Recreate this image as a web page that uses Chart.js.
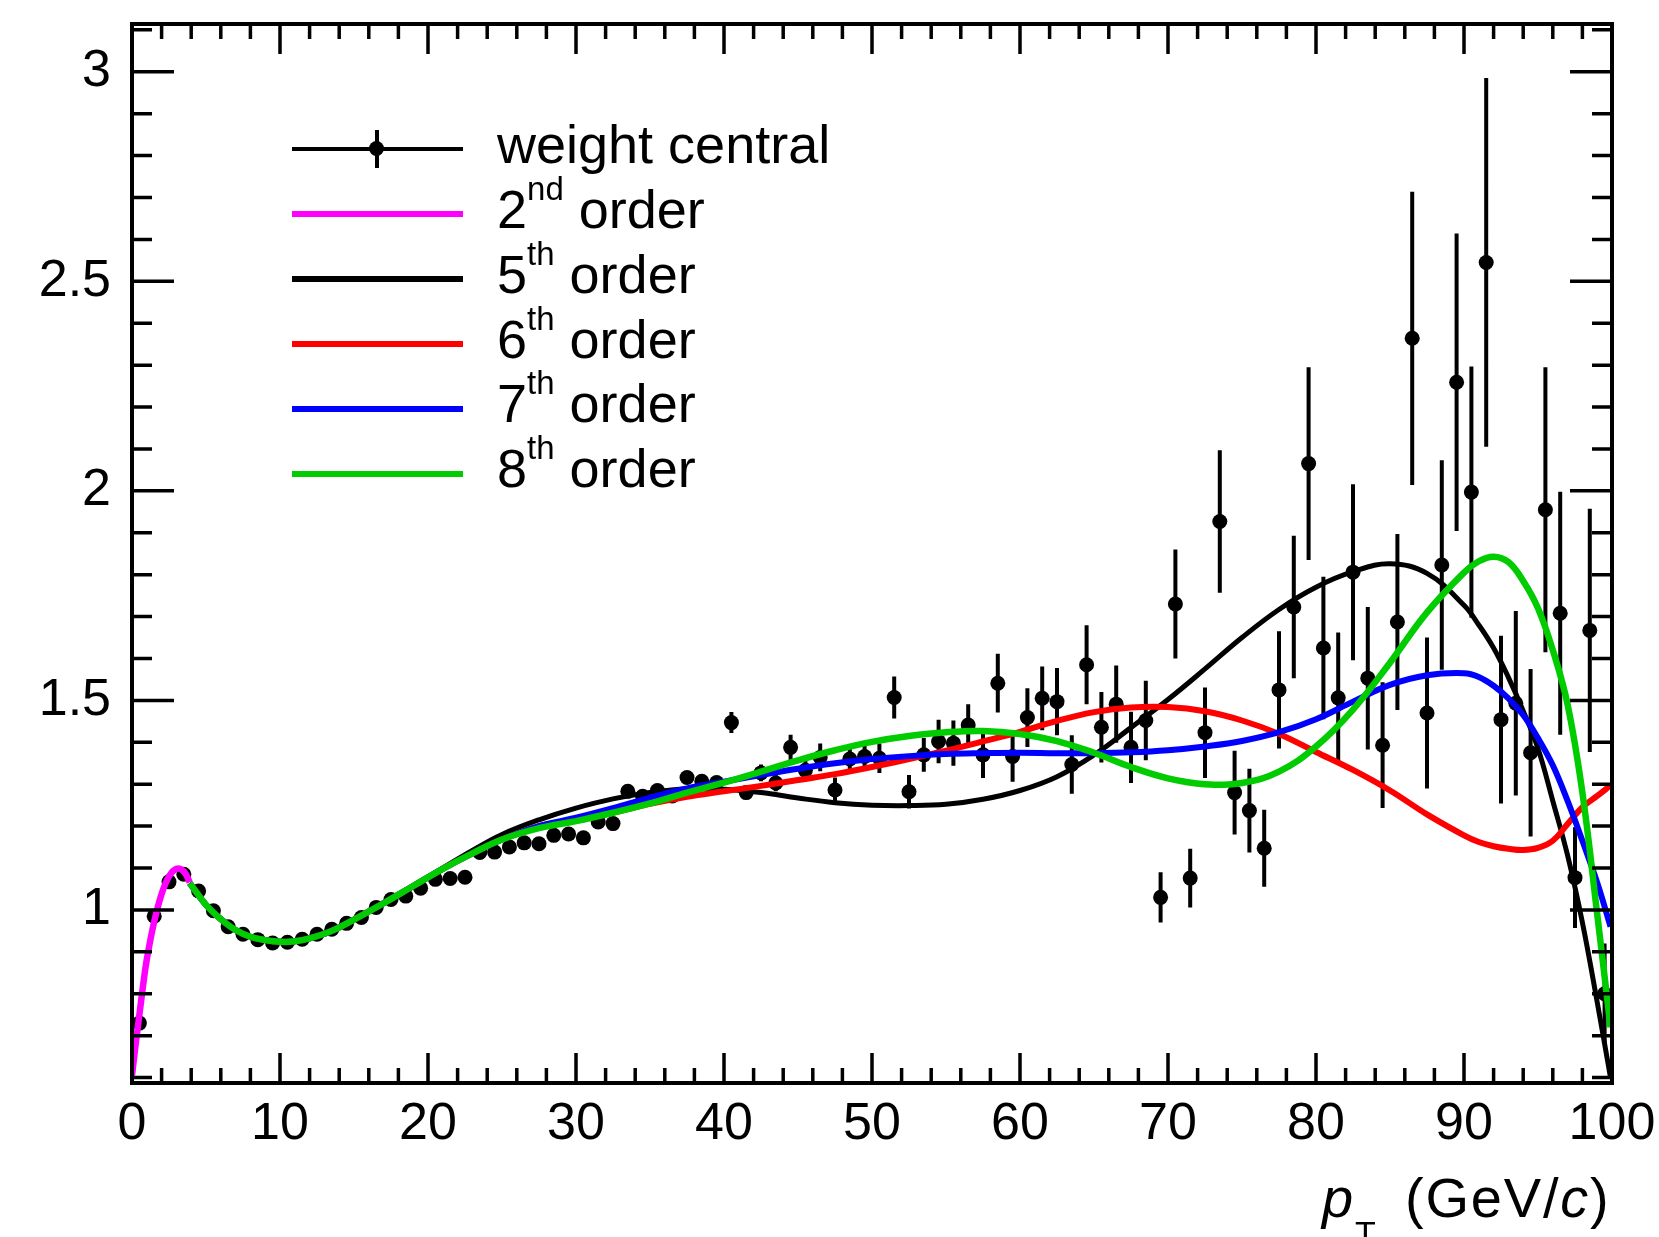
<!DOCTYPE html>
<html>
<head>
<meta charset="utf-8">
<script src="https://cdn.jsdelivr.net/npm/chart.js@4.4.1/dist/chart.umd.min.js"></script>
<style>
html,body{margin:0;padding:0;background:#fff;overflow:hidden;}
#wrap{position:relative;width:1659px;height:1237px;overflow:hidden;background:#fff;}
#c{position:absolute;left:0;top:0;}
.txt{position:absolute;font-family:"Liberation Sans",Arial,Helvetica,sans-serif;font-size:54px;line-height:54px;color:#000;white-space:nowrap;}
.sup{font-size:33px;position:relative;top:-28px;}
.ln{position:absolute;left:292px;width:171px;height:6px;}
</style>
</head>
<body>
<div id="wrap">
<canvas id="c" width="1659" height="1237"></canvas>

<!-- legend -->
<div class="ln" style="top:147px;height:4px;background:#000"></div>
<div style="position:absolute;left:375px;top:130px;width:4px;height:38px;background:#000"></div>
<div style="position:absolute;left:369px;top:141px;width:15px;height:15px;border-radius:50%;background:#000"></div>
<div class="txt" style="left:497px;top:117px">weight central</div>

<div class="ln" style="top:211px;background:#ff00ff"></div>
<div class="txt" style="left:497px;top:182px">2<span class="sup">nd</span> order</div>

<div class="ln" style="top:276px;background:#000000"></div>
<div class="txt" style="left:497px;top:247px">5<span class="sup">th</span> order</div>

<div class="ln" style="top:341px;background:#ff0000"></div>
<div class="txt" style="left:497px;top:312px">6<span class="sup">th</span> order</div>

<div class="ln" style="top:406px;background:#0000ff"></div>
<div class="txt" style="left:497px;top:376px">7<span class="sup">th</span> order</div>

<div class="ln" style="top:471px;background:#00cc00"></div>
<div class="txt" style="left:497px;top:441px">8<span class="sup">th</span> order</div>

<!-- x axis title -->
<div class="txt" style="left:1322px;top:1170px;font-size:56px;line-height:56px;font-style:italic">p</div>
<div class="txt" style="left:1355px;top:1216px;font-size:34px;line-height:34px">T</div>
<div class="txt" style="left:1405px;top:1170px;font-size:56px;line-height:56px;letter-spacing:1.8px">(GeV/<i>c</i>)</div>
</div>

<script>
// ---- data: bin centres, central weights and their errors ----
const binCenters = [0.5,1.5,2.5,3.5,4.5,5.5,6.5,7.5,8.5,9.5,10.5,11.5,12.5,13.5,14.5,15.5,16.5,17.5,18.5,19.5,
  20.5,21.5,22.5,23.5,24.5,25.5,26.5,27.5,28.5,29.5,30.5,31.5,32.5,33.5,34.5,35.5,36.5,37.5,38.5,39.5,
  40.5,41.5,42.5,43.5,44.5,45.5,46.5,47.5,48.5,49.5,50.5,51.5,52.5,53.5,54.5,55.5,56.5,57.5,58.5,59.5,
  60.5,61.5,62.5,63.5,64.5,65.5,66.5,67.5,68.5,69.5,70.5,71.5,72.5,73.5,74.5,75.5,76.5,77.5,78.5,79.5,
  80.5,81.5,82.5,83.5,84.5,85.5,86.5,87.5,88.5,89.5,90.5,91.5,92.5,93.5,94.5,95.5,96.5,97.5,98.5,99.5];
const weightCentral = [0.73,0.985,1.067,1.085,1.045,0.998,0.96,0.942,0.929,0.921,0.923,0.93,0.942,0.954,0.968,0.982,1.006,1.025,1.033,1.052,
  1.073,1.075,1.078,1.137,1.138,1.15,1.16,1.158,1.178,1.181,1.172,1.21,1.206,1.283,1.271,1.285,1.272,1.316,1.307,1.304,
  1.447,1.28,1.327,1.303,1.388,1.333,1.364,1.286,1.36,1.366,1.362,1.507,1.282,1.37,1.402,1.398,1.441,1.37,1.541,1.366,
  1.459,1.505,1.497,1.347,1.585,1.436,1.491,1.388,1.452,1.03,1.73,1.076,1.423,1.927,1.28,1.237,1.147,1.525,1.723,2.065,
  1.625,1.506,1.806,1.553,1.393,1.687,2.364,1.47,1.823,2.259,1.997,2.545,1.454,1.493,1.375,1.955,1.708,1.077,1.667,0.8];
const weightError = [0.003,0.003,0.003,0.003,0.003,0.003,0.003,0.003,0.003,0.003,0.003,0.003,0.003,0.003,0.003,0.003,0.003,0.003,0.003,0.003,
  0.006,0.006,0.006,0.006,0.006,0.006,0.006,0.006,0.006,0.006,0.01,0.01,0.01,0.012,0.012,0.012,0.012,0.012,0.012,0.012,
  0.025,0.015,0.02,0.02,0.03,0.025,0.033,0.03,0.035,0.03,0.035,0.05,0.04,0.04,0.052,0.054,0.05,0.055,0.07,0.06,
  0.07,0.076,0.08,0.07,0.094,0.084,0.092,0.085,0.095,0.06,0.13,0.07,0.108,0.17,0.1,0.1,0.092,0.14,0.17,0.23,
  0.17,0.156,0.21,0.17,0.15,0.21,0.35,0.18,0.25,0.355,0.3,0.44,0.2,0.22,0.2,0.34,0.29,0.12,0.29,0.12];

// ---- fit curves ----
const order2X = [0,0.25,0.5,0.75,1,1.5,2,2.5,3,3.5,3.9];
const order2Y = [0.605,0.68,0.75,0.82,0.882,0.972,1.038,1.08,1.098,1.092,1.066];

const fitX = [3.9,5,6,7,8,9,10,11,12,13.5,15,17,19,21,23,25,27.5,30,32.5,35,37.5,40,42.5,45,47.5,50,52.5,55,57.5,60,
  62.5,65,67.5,70,72.5,75,77.5,80,82.5,85,87.5,90,91,92,93,94,95,96,97,98,99,99.9];
const order5Y = [1.064,1.012,0.978,0.952,0.936,0.928,0.924,0.925,0.932,0.95,0.977,1.016,1.058,1.1,1.142,1.18,1.215,1.243,1.265,1.28,1.289,1.288,1.28,1.267,1.256,1.25,1.249,1.252,1.264,1.285,
  1.318,1.37,1.435,1.502,1.575,1.65,1.717,1.77,1.807,1.826,1.803,1.727,1.68,1.625,1.555,1.475,1.385,1.26,1.13,0.97,0.78,0.6];
const order6Y = [1.064,1.012,0.978,0.952,0.936,0.928,0.924,0.925,0.932,0.95,0.977,1.016,1.057,1.098,1.135,1.168,1.2,1.215,1.232,1.253,1.27,1.283,1.296,1.31,1.324,1.341,1.36,1.38,1.402,1.425,
  1.451,1.472,1.483,1.484,1.474,1.452,1.42,1.377,1.334,1.285,1.228,1.178,1.162,1.152,1.146,1.143,1.148,1.165,1.205,1.245,1.272,1.297];
const order7Y = [1.064,1.012,0.978,0.952,0.936,0.928,0.924,0.925,0.932,0.95,0.977,1.016,1.057,1.098,1.135,1.168,1.2,1.22,1.243,1.268,1.29,1.306,1.322,1.337,1.35,1.36,1.367,1.372,1.374,1.375,
  1.374,1.374,1.376,1.381,1.39,1.403,1.424,1.455,1.497,1.537,1.56,1.565,1.556,1.535,1.505,1.465,1.41,1.345,1.26,1.165,1.065,0.96];
const order8Y = [1.064,1.012,0.978,0.952,0.936,0.928,0.924,0.925,0.932,0.95,0.977,1.016,1.057,1.098,1.135,1.168,1.195,1.212,1.232,1.254,1.28,1.304,1.33,1.357,1.381,1.401,1.415,1.424,1.427,1.42,
  1.403,1.375,1.341,1.314,1.3,1.303,1.33,1.39,1.478,1.59,1.71,1.805,1.832,1.843,1.83,1.785,1.72,1.62,1.49,1.28,0.99,0.72];

const xTicks = [0,10,20,30,40,50,60,70,80,90,100];
const yTicks = [1,1.5,2,2.5,3];

function pts(xs, ys){ return xs.map((x,i)=>({x:x, y:ys[i]})); }

const FONT = '"Liberation Sans", Arial, Helvetica, sans-serif';

const errorBars = {
  id:'errorBars',
  beforeDatasetsDraw(chart){
    const {ctx, chartArea:a, scales:{x,y}} = chart;
    ctx.save();
    ctx.beginPath(); ctx.rect(a.left,a.top,a.right-a.left,a.bottom-a.top); ctx.clip();
    ctx.strokeStyle = '#000'; ctx.lineWidth = 4; ctx.lineCap='butt';
    ctx.beginPath();
    binCenters.forEach((c,i)=>{
      const px = x.getPixelForValue(c);
      ctx.moveTo(px, y.getPixelForValue(weightCentral[i]-weightError[i]));
      ctx.lineTo(px, y.getPixelForValue(weightCentral[i]+weightError[i]));
    });
    ctx.stroke();
    ctx.restore();
  }
};

const frameTicks = {
  id:'frameTicks',
  afterDatasetsDraw(chart){
    const {ctx, chartArea:a, scales:{x,y}} = chart;
    ctx.save();
    ctx.strokeStyle='#000'; ctx.lineWidth=3.5; ctx.lineCap='butt';
    ctx.beginPath();
    for(let k=0;k<=50;k++){
      const v = k*2; const px = x.getPixelForValue(v);
      const L = (k%5===0)?30:15;
      ctx.moveTo(px,a.bottom); ctx.lineTo(px,a.bottom-L);
      ctx.moveTo(px,a.top); ctx.lineTo(px,a.top+L);
    }
    for(let k=6;k<=31;k++){
      const py = y.getPixelForValue(k/10);
      const L = (k%5===0)?42:20;
      ctx.moveTo(a.left,py); ctx.lineTo(a.left+L,py);
      ctx.moveTo(a.right,py); ctx.lineTo(a.right-L,py);
    }
    ctx.stroke();
    ctx.lineWidth=4;
    ctx.strokeRect(a.left,a.top,a.right-a.left,a.bottom-a.top);
    ctx.restore();
  }
};

function curve(label, xs, ys, color, w){
  return {label, data:pts(xs,ys), showLine:true, borderColor:color, backgroundColor:color,
    borderWidth:w, pointRadius:0, pointHoverRadius:0, tension:0.4, fill:false};
}

new Chart(document.getElementById('c'), {
  type:'scatter',
  data:{datasets:[
    curve('8th order', fitX, order8Y, '#00cc00', 6.5),
    curve('7th order', fitX, order7Y, '#0000ff', 6),
    curve('6th order', fitX, order6Y, '#ff0000', 6),
    curve('5th order', fitX, order5Y, '#000000', 5),
    curve('2nd order', order2X, order2Y, '#ff00ff', 6.5),
    {label:'weight central', data:pts(binCenters, weightCentral), showLine:false,
     pointRadius:7.5, pointHoverRadius:7.5, pointBackgroundColor:'#000', pointBorderWidth:0, borderColor:'#000'}
  ]},
  options:{
    responsive:false, animation:false, devicePixelRatio:1,
    layout:{padding:{left:0, top:24, right:47, bottom:0}},
    plugins:{legend:{display:false}, tooltip:{enabled:false}},
    scales:{
      x:{type:'linear', min:0, max:100,
        afterBuildTicks(s){ s.ticks = xTicks.map(v=>({value:v})); },
        grid:{display:false, drawTicks:false}, border:{display:false},
        ticks:{autoSkip:false, maxRotation:0, minRotation:0, padding:10, color:'#000', font:{family:FONT, size:52},
          callback:(v)=>String(v)},
        afterFit(s){ s.height=154; s.paddingLeft=0; s.paddingRight=0; }},
      y:{type:'linear', min:0.587, max:3.114,
        afterBuildTicks(s){ s.ticks = yTicks.map(v=>({value:v})); },
        grid:{display:false, drawTicks:false}, border:{display:false},
        ticks:{padding:21, color:'#000', font:{family:FONT, size:52}, callback:(v)=>String(v)},
        afterFit(s){ s.width=132; s.paddingTop=0; s.paddingBottom=0; }}
    }
  },
  plugins:[errorBars, frameTicks]
});
</script>
</body>
</html>
